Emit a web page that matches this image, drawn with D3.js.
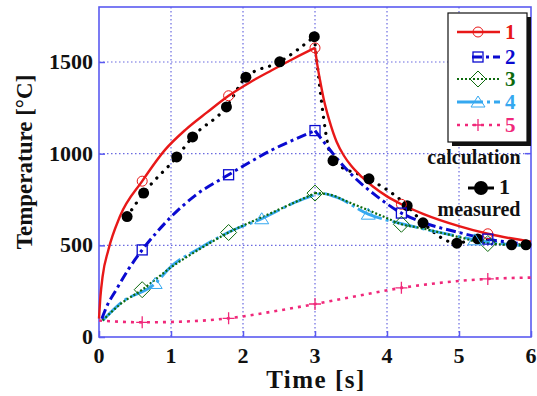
<!DOCTYPE html>
<html>
<head>
<meta charset="utf-8">
<script src="https://cdn.jsdelivr.net/npm/d3@7"></script>
<style>
  body { margin: 0; background: #fff; }
  svg text { font-family: "Liberation Serif", "DejaVu Serif", serif; font-weight: bold; }
</style>
</head>
<body>
<div id="chart"></div>
<script>
// calculated curves [time s, temperature °C]
const calc1 = [[0,100],[0.02,220],[0.05,330],[0.13,475],[0.29,657],[0.6,850],[0.92,1022],[1.2,1130],[1.5,1225],[1.8,1316],[2.1,1390],[2.4,1455],[2.7,1518],[3.0,1577],
  [3.03,1490],[3.07,1400],[3.12,1300],[3.2,1180],[3.3,1065],[3.4,990],[3.5,935],[3.65,873],[3.8,822],[4.0,767],[4.2,724],[4.5,672],[5.0,605],[5.4,563],[6.0,520]];
const calc2 = [[0.04,100],[0.1,160],[0.25,265],[0.41,370],[0.6,475],[0.8,570],[1.0,655],[1.33,770],[1.8,885],[2.1,955],[2.4,1020],[2.7,1075],[3.0,1126],
  [3.1,1075],[3.25,1000],[3.49,893],[3.86,767],[4.2,676],[4.5,625],[5.0,570],[5.4,534],[6.0,505]];
const calc3 = [[0.05,90],[0.3,180],[0.6,258],[1.0,380],[1.4,480],[1.8,570],[2.3,660],[2.75,740],[3.0,785],
  [3.21,776],[3.49,732],[3.95,657],[4.2,615],[4.46,595],[5.0,545],[5.4,510],[6.0,500]];
const calc4 = [[0.05,90],[0.3,185],[0.78,292],[1.0,384],[1.4,485],[1.82,575],[2.26,645],[2.75,739],[3.0,775],[3.1,783],
  [3.3,762],[3.74,670],[4.2,618],[4.5,590],[5.0,548],[5.22,530],[6.0,495]];
const calc5 = [[0,90],[0.6,80],[1.0,82],[1.8,102],[2.4,138],[3.0,180],[3.6,225],[4.2,268],[4.8,298],[5.4,317],[6.0,324]];
const measured = [[0.39,657],[0.62,785],[1.08,982],[1.3,1091],[1.77,1255],[2.04,1417],[2.51,1501],[2.99,1638],
  [3.25,962],[3.75,863],[4.28,716],[4.5,623],[4.97,512],[5.26,535],[5.73,503],[5.93,503]];

const markTimes = [0.6, 1.8, 3.0, 4.2, 5.4];
const markTimes4 = [0.78, 2.26, 3.74, 5.22];
const xTicks = [0, 1, 2, 3, 4, 5, 6];
const yTicks = [0, 500, 1000, 1500];
const seriesNames = ['1', '2', '3', '4', '5'];

const W = 537, H = 396;
const margin = { top: 7, right: 6, bottom: 59, left: 99 };
const width = W - margin.left - margin.right;
const height = H - margin.top - margin.bottom;

const svg = d3.select('#chart').append('svg')
  .attr('width', W).attr('height', H);
const g = svg.append('g').attr('transform', `translate(${margin.left},${margin.top})`);

const x = d3.scaleLinear().domain([0, 6]).range([0, width]);
const y = d3.scaleLinear().domain([0, 1800]).range([height, 0]);

const frameColor = '#5a5af0';

// grid
g.append('g').selectAll('line').data(xTicks.slice(1, -1)).join('line')
  .attr('x1', d => x(d)).attr('x2', d => x(d)).attr('y1', 0).attr('y2', height)
  .attr('stroke', '#6a6ae0').attr('stroke-width', 1.2).attr('stroke-dasharray', '1.5,2.5');
g.append('g').selectAll('line').data(yTicks.slice(1)).join('line')
  .attr('y1', d => y(d)).attr('y2', d => y(d)).attr('x1', 0).attr('x2', width)
  .attr('stroke', '#6a6ae0').attr('stroke-width', 1.2).attr('stroke-dasharray', '1.5,2.5');

// axes: ticks from d3, labels drawn as plain text so the serif font sticks
const xAxis = g.append('g').attr('transform', `translate(0,${height})`)
  .call(d3.axisBottom(x).tickValues(xTicks).tickSize(-6).tickFormat(''));
const yAxis = g.append('g')
  .call(d3.axisLeft(y).tickValues(yTicks).tickSize(-6).tickFormat(''));
[xAxis, yAxis].forEach(a => {
  a.select('.domain').remove();
  a.selectAll('line').attr('stroke', frameColor).attr('stroke-width', 1.5);
  a.selectAll('text').remove();
});
g.append('g').selectAll('text').data(xTicks).join('text')
  .attr('x', d => x(d)).attr('y', height + 26).attr('text-anchor', 'middle')
  .style('font-size', '22px').attr('fill', '#111').text(d => d);
g.append('g').selectAll('text').data(yTicks).join('text')
  .attr('x', -6).attr('y', d => y(d) + 7).attr('text-anchor', 'end')
  .style('font-size', '22px').attr('fill', '#111').text(d => d);

g.append('rect').attr('width', width).attr('height', height)
  .attr('fill', 'none').attr('stroke', frameColor).attr('stroke-width', 1.6);

// right-side ticks
g.append('g').selectAll('line').data(yTicks.slice(1)).join('line')
  .attr('x1', width - 6).attr('x2', width).attr('y1', d => y(d)).attr('y2', d => y(d))
  .attr('stroke', frameColor).attr('stroke-width', 1.5);

const line = d3.line().x(d => x(d[0])).y(d => y(d[1])).curve(d3.curveMonotoneX);

// split a series at its peak so the corner stays sharp
function split(data) {
  const i = d3.maxIndex(data, d => d[1]);
  return [data.slice(0, i + 1), data.slice(i)];
}

const styles = [
  { data: calc1, color: '#e81818', w: 2.4, dash: null, split: true },
  { data: calc2, color: '#0a0ad0', w: 3, dash: '10,4,3,4', split: true },
  { data: calc3, color: '#0d6a0d', w: 2.2, dash: '2,2', split: true },
  { data: calc4, color: '#35a8f0', w: 2.8, dash: '26,4,3,4', split: false },
  { data: calc5, color: '#f0287a', w: 2.6, dash: '3,5', split: false }
];

// measured (dotted black) first, under calculations
split(measured).forEach(seg => {
  g.append('path').attr('d', line(seg)).attr('fill', 'none')
    .attr('stroke', '#000').attr('stroke-width', 3.2)
    .attr('stroke-dasharray', '0.1,8').attr('stroke-linecap', 'round');
});

// draw order: light blue (4) under green dotted (3)
const drawOrder = [3, 2, 4, 1, 0];
drawOrder.forEach(k => {
  const s = styles[k];
  const segs = s.split ? split(s.data) : [s.data];
  segs.forEach(seg => {
    g.append('path').attr('d', line(seg)).attr('fill', 'none')
      .attr('stroke', s.color).attr('stroke-width', s.w)
      .attr('stroke-dasharray', s.dash);
  });
});

g.selectAll('.meas').data(measured).join('circle')
  .attr('cx', d => x(d[0])).attr('cy', d => y(d[1])).attr('r', 5.5).attr('fill', '#000');

function marker(sel, type, color) {
  if (type === 'circle') {
    sel.append('circle').attr('r', 5).attr('fill', 'none').attr('stroke', color).attr('stroke-width', 1);
  } else if (type === 'square') {
    sel.append('rect').attr('x', -5).attr('y', -5).attr('width', 10).attr('height', 10)
      .attr('fill', 'none').attr('stroke', color).attr('stroke-width', 1.3);
  } else if (type === 'diamond') {
    sel.append('path').attr('d', 'M0,-8L8,0L0,8L-8,0Z').attr('fill', 'none').attr('stroke', color).attr('stroke-width', 1);
  } else if (type === 'triangle') {
    sel.append('path').attr('d', 'M0,-6L7,5L-7,5Z').attr('fill', 'none').attr('stroke', color).attr('stroke-width', 1);
  } else {
    sel.append('path').attr('d', 'M-6,0H6M0,-6V6').attr('stroke', color).attr('stroke-width', 1.3);
  }
}

const mTypes = ['circle', 'square', 'diamond', 'triangle', 'plus'];
styles.forEach((s, i) => {
  const times = i === 3 ? markTimes4 : markTimes;
  const pts = s.data.filter(d => times.includes(d[0]));
  pts.forEach(d => {
    marker(g.append('g').attr('transform', `translate(${x(d[0])},${y(d[1])})`), mTypes[i], s.color);
  });
});

// legend
const lg = svg.append('g').attr('transform', 'translate(448,13)');
lg.append('rect').attr('x', 4).attr('y', 4).attr('width', 79).attr('height', 129).attr('fill', '#111');
lg.append('rect').attr('width', 79).attr('height', 129).attr('fill', '#fff').attr('stroke', '#111').attr('stroke-width', 1.2);
const rowY = [19, 44, 66, 89, 112];
styles.forEach((s, i) => {
  const r = lg.append('g').attr('transform', `translate(0,${rowY[i]})`);
  r.append('line').attr('x1', i === 1 ? 24 : 9).attr('x2', 52).attr('y1', 0).attr('y2', 0)
    .attr('stroke', s.color).attr('stroke-width', s.w).attr('stroke-dasharray', s.dash);
  marker(r.append('g').attr('transform', 'translate(30,0)'), mTypes[i], s.color);
  r.append('text').attr('x', 57).attr('y', 7).attr('fill', s.color)
    .style('font-size', '21px').text(seriesNames[i]);
});

svg.append('text').attr('x', 474).attr('y', 164).attr('text-anchor', 'middle')
  .style('font-size', '20px').attr('fill', '#111').text('calculation');
svg.append('line').attr('x1', 468).attr('x2', 494).attr('y1', 188).attr('y2', 188)
  .attr('stroke', '#000').attr('stroke-width', 3);
svg.append('circle').attr('cx', 481).attr('cy', 188).attr('r', 7).attr('fill', '#000');
svg.append('text').attr('x', 499).attr('y', 194).style('font-size', '22px').attr('fill', '#111').text('1');
svg.append('text').attr('x', 479).attr('y', 216).attr('text-anchor', 'middle')
  .style('font-size', '20px').attr('fill', '#111').text('measured');

// axis titles
svg.append('text').attr('transform', 'translate(32,162) rotate(-90)').attr('text-anchor', 'middle')
  .style('font-size', '23px').attr('fill', '#111').text('Temperature [°C]');
svg.append('text').attr('x', 316).attr('y', 388).attr('text-anchor', 'middle')
  .style('font-size', '25px').attr('fill', '#111').style('letter-spacing', '1.5px').text('Time [s]');
</script>
</body>
</html>
